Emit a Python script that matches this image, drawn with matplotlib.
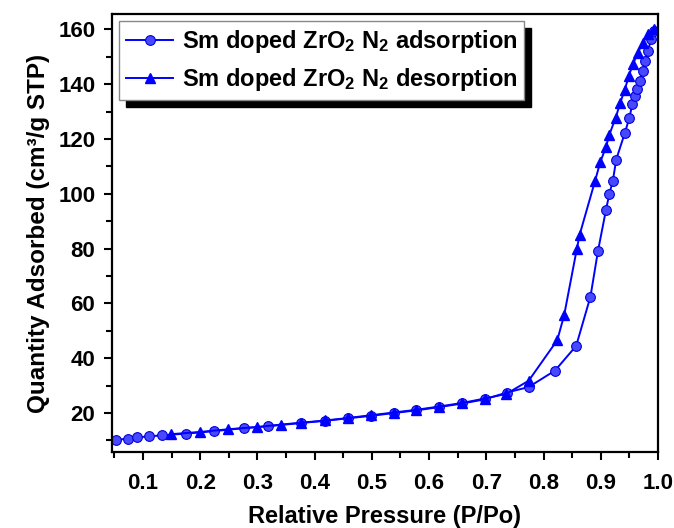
import numpy as np
import matplotlib
matplotlib.use("Agg")
import matplotlib.pyplot as plt
from matplotlib.ticker import MultipleLocator

# adsorption branch (P/Po, cm3/g STP)
ads_p = [0.053, 0.074, 0.089, 0.110, 0.134, 0.175, 0.224, 0.276, 0.319, 0.377,
         0.419, 0.458, 0.499, 0.538, 0.578, 0.618, 0.658, 0.697, 0.736, 0.774,
         0.820, 0.857, 0.882, 0.895, 0.909, 0.915, 0.921, 0.927, 0.942, 0.950,
         0.955, 0.959, 0.964, 0.968, 0.973, 0.978, 0.982, 0.988, 0.993]
ads_q = [10.2, 10.7, 11.1, 11.5, 11.9, 12.5, 13.4, 14.5, 15.2, 16.4,
         17.2, 18.1, 19.0, 20.0, 21.0, 22.2, 23.5, 25.0, 27.5, 29.5,
         35.5, 44.5, 62.5, 79.0, 94.0, 100.0, 104.6, 112.5, 122.2, 127.7,
         132.6, 135.6, 138.4, 141.0, 144.8, 148.4, 152.0, 156.3, 159.5]

# desorption branch
des_p = [0.993, 0.982, 0.973, 0.965, 0.956, 0.949, 0.942, 0.934, 0.926, 0.915,
         0.909, 0.899, 0.890, 0.863, 0.858, 0.836, 0.824, 0.774, 0.735, 0.697,
         0.658, 0.618, 0.578, 0.538, 0.498, 0.458, 0.419, 0.377, 0.341, 0.299,
         0.249, 0.199, 0.149]
des_q = [160.0, 158.2, 155.0, 151.5, 147.2, 143.0, 138.0, 133.2, 127.7, 121.6,
         117.0, 111.5, 104.7, 85.0, 79.7, 55.7, 46.6, 31.8, 27.0, 25.3,
         23.7, 22.4, 21.2, 20.2, 19.2, 18.2, 17.3, 16.5, 15.8, 14.9,
         14.1, 13.1, 12.3]

plt.rcParams['font.family'] = ['Liberation Sans', 'DejaVu Sans']
plt.rcParams['font.weight'] = 'bold'
plt.rcParams['mathtext.fontset'] = 'custom'
plt.rcParams['mathtext.rm'] = 'Liberation Sans:bold'
plt.rcParams['mathtext.bf'] = 'Liberation Sans:bold'
plt.rcParams['mathtext.default'] = 'bf'

fig = plt.figure(figsize=(6.74, 5.28), dpi=100)
# axes box: left 112px, right 658px, top 14px, bottom 452px
ax = fig.add_axes([112/674, 1-452/528, 546/674, 438/528])

blue = '#0000ff'
ax.plot(ads_p, ads_q, color=blue, lw=1.4, marker='o', ms=7,
        mfc='#4848ff', mec='#0000dd', mew=0.8,
        label=r'Sm doped ZrO$_2$ N$_2$ adsorption')
ax.plot(des_p, des_q, color=blue, lw=1.4, marker='^', ms=7.5,
        mfc=blue, mec=blue,
        label=r'Sm doped ZrO$_2$ N$_2$ desorption')

ax.set_xlim(0.046, 1.0)
ax.set_ylim(5.8, 165.6)
ax.xaxis.set_minor_locator(MultipleLocator(0.05))
ax.yaxis.set_minor_locator(MultipleLocator(10))
ax.set_yticks([20, 40, 60, 80, 100, 120, 140, 160])
ax.set_xticks([0.1, 0.2, 0.3, 0.4, 0.5, 0.6, 0.7, 0.8, 0.9, 1.0])

ax.tick_params(which='major', direction='out', length=6, width=1.5,
               labelsize=16, pad=6, top=False, right=False)
ax.tick_params(axis='x', which='major', pad=9)
ax.tick_params(which='minor', direction='out', length=4, width=1.5,
               top=False, right=False)
for s in ax.spines.values():
    s.set_linewidth(1.6)

ax.set_xlabel('Relative Pressure (P/Po)', fontsize=17, fontweight='bold', labelpad=8)
ax.set_ylabel('Quantity Adsorbed (cm³/g STP)', fontsize=17.5, fontweight='bold', labelpad=6)

leg = ax.legend(loc='upper left', fontsize=17, frameon=True, fancybox=False,
                shadow={'color': 'black', 'alpha': 1, 'ox': 5, 'oy': -5},
                borderaxespad=0.3, handlelength=2.0, labelspacing=0.45,
                borderpad=0.3, handletextpad=0.35)
leg.get_frame().set_edgecolor('#888888')
leg.get_frame().set_linewidth(1.0)
leg.get_frame().set_alpha(1)

plt.savefig('out.png', dpi=100)
plt.close()
